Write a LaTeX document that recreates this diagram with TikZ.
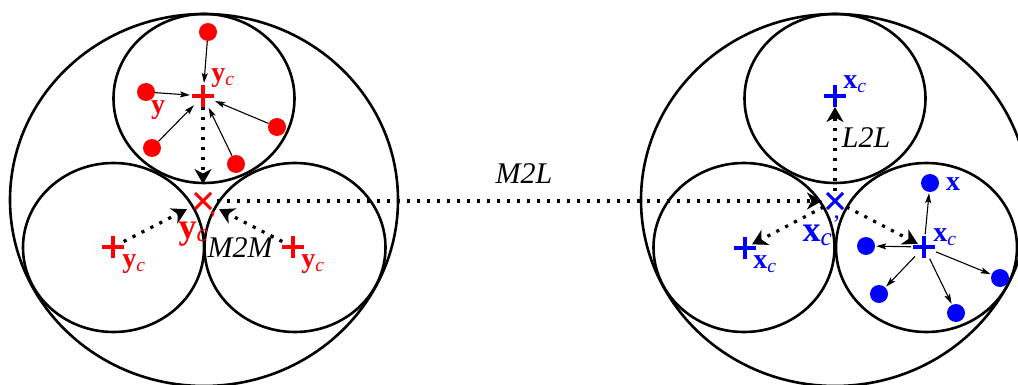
\documentclass[tikz,border=0pt]{standalone}
\usepackage{fontspec}
\setmainfont{Liberation Serif}
\usetikzlibrary{arrows.meta,calc}
\newcommand{\vc}[1]{\textbf{#1}\textsubscript{\textit{c}}}
\newcommand{\vcp}[1]{\textbf{#1}\textsubscript{\textit{c}}\textsuperscript{'}}
% dotted connector with a solid head: from, to, gap at start, gap at end
\newcommand{\dotto}[4]{%
    \draw[dotline, shorten <=#3pt] (#1) -- ($(#2)!#4pt+10pt!(#1)$);
    \draw[head] ($(#2)!#4pt+10pt!(#1)$) -- ($(#2)!#4pt!(#1)$);}
\begin{document}
\begin{tikzpicture}[x=1pt, y=-1pt, line join=round, font=\fontsize{28}{32}\selectfont,
    ring/.style={line width=2.6pt},
    dot/.style={circle, inner sep=0pt, minimum size=18pt},
    plus/.style={line width=3.8pt},
    fine/.style={line width=1.1pt, -{Stealth[length=10pt,width=6pt,inset=2pt]}},
    dotline/.style={line width=3.2pt, dash pattern=on 3.2pt off 6.8pt},
    head/.style={line width=1.6pt, -{Stealth[length=15pt,width=17pt,inset=4.5pt]}},
    op/.style={font=\fontsize{30}{34}\selectfont\itshape}]
    \def\rx{90.5} % small cells
    \def\ry{84.5}
    \def\Rx{194}
    \def\Ry{186}
    \useasboundingbox (0,0) rectangle (1018,385);
    % source side
    \draw[ring] (204,200) ellipse [x radius=\Rx, y radius=\Ry];
    \draw[ring] (204,98.5) ellipse [x radius=\rx, y radius=\ry];
    \draw[ring] (113.5,247.5) ellipse [x radius=\rx, y radius=\ry];
    \draw[ring] (295,247.5) ellipse [x radius=\rx, y radius=\ry];
    \coordinate (yt) at (203,96);
    \coordinate (yl) at (113,247);
    \coordinate (yr) at (293,247);
    \coordinate (Y) at (203,201);
    \foreach \p in {yt,yl,yr} \draw[red, plus] (\p) +(-11,0) -- +(11,0) +(0,-11) -- +(0,11);
    \draw[red, line width=3pt] (Y) +(-8,-8) -- +(8,8) +(-8,8) -- +(8,-8);
    \foreach \i/\a/\b in {1/208/32, 2/146/92, 3/152/148, 4/236/164, 5/277/127}
        \node[dot, fill=red] (r\i) at (\a,\b) {};
    \foreach \i in {1,...,5} \draw[fine, shorten >=13pt] (r\i) -- (yt);
    \node[red] at (223,78) {\vc{y}};
    \node[red] at (158,110) {\textbf{y}};
    \node[red] at (134,264) {\vc{y}};
    \node[red] at (313,264) {\vc{y}};
    \node[red, font=\fontsize{36}{40}\selectfont] at (198,229) {\vcp{y}};
    \dotto{yt}{Y}{11}{17}
    \dotto{yl}{Y}{12}{18}
    \dotto{yr}{Y}{12}{18}
    \node[op] at (240,248) {M2M};
    % target side
    \draw[ring] (835,200) ellipse [x radius=\Rx, y radius=\Ry];
    \draw[ring] (835,98.5) ellipse [x radius=\rx, y radius=\ry];
    \draw[ring] (744,247.5) ellipse [x radius=\rx, y radius=\ry];
    \draw[ring] (926.5,247.5) ellipse [x radius=\rx, y radius=\ry];
    \coordinate (xt) at (835,96);
    \coordinate (xl) at (745,248);
    \coordinate (xr) at (924,247);
    \coordinate (X) at (835,201);
    \foreach \p in {xt,xl,xr} \draw[blue, plus] (\p) +(-11,0) -- +(11,0) +(0,-11) -- +(0,11);
    \draw[blue, line width=3pt] (X) +(-8,-8) -- +(8,8) +(-8,8) -- +(8,-8);
    \foreach \i/\a/\b in {1/930/183, 2/866/246, 3/879/294, 4/956/313, 5/1000/278}
        \node[dot, fill=blue] (b\i) at (\a,\b) {};
    \foreach \i in {1,...,5} \draw[fine, shorten <=13pt, shorten >=1pt] (xr) -- (b\i);
    \node[blue] at (855,84) {\vc{x}};
    \node[blue] at (765,264) {\vc{x}};
    \node[blue] at (945,237) {\vc{x}};
    \node[blue] at (953,184) {\textbf{x}};
    \node[blue, font=\fontsize{36}{40}\selectfont] at (822,231) {\vcp{x}};
    \dotto{X}{xt}{10}{11}
    \dotto{X}{xl}{13}{8}
    \dotto{X}{xr}{13}{7}
    \node[op] at (866,138) {L2L};
    % translation
    \dotto{Y}{X}{14}{13}
    \node[op] at (524,174) {M2L};
\end{tikzpicture}
\end{document}
